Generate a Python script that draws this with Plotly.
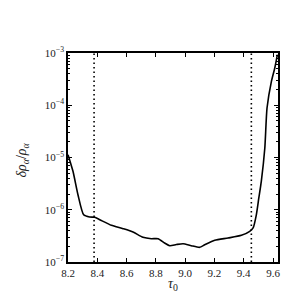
import plotly.graph_objects as go

tau0 = [8.2, 8.234, 8.268, 8.307, 8.348, 8.382, 8.417, 8.496, 8.576, 8.644, 8.712, 8.769, 8.815, 8.860,
        8.895, 8.940, 8.986, 9.042, 9.099, 9.134, 9.202, 9.293, 9.384, 9.441, 9.464, 9.486, 9.503,
        9.520, 9.544, 9.559, 9.589, 9.612, 9.630]
drho = [1.13e-5, 5.44e-6, 1.94e-6, 8.0e-7, 7.26e-7, 7.16e-7, 6.45e-7, 5.04e-7, 4.34e-7, 3.75e-7,
        2.97e-7, 2.79e-7, 2.79e-7, 2.31e-7, 2.05e-7, 2.16e-7, 2.24e-7, 2.05e-7, 1.91e-7, 2.14e-7,
        2.6e-7, 2.88e-7, 3.24e-7, 3.87e-7, 4.48e-7, 8.0e-7, 1.68e-6, 3.5e-6, 1.52e-5, 8.85e-5,
        2.87e-4, 5.16e-4, 9.3e-4]
vlines = [8.378, 9.452]
xticks = [8.2, 8.4, 8.6, 8.8, 9.0, 9.2, 9.4, 9.6]
yticks = [1e-7, 1e-6, 1e-5, 1e-4, 1e-3]
yticklabels = ["10<sup>−7</sup>", "10<sup>−6</sup>", "10<sup>−5</sup>", "10<sup>−4</sup>", "10<sup>−3</sup>"]

font = "Liberation Serif"
fig = go.Figure()
for xv in vlines:
    fig.add_trace(go.Scatter(x=[xv, xv], y=[1e-7, 1e-3], mode="lines",
                             line=dict(color="black", width=1.6, dash="1.5px,3px"), showlegend=False))
fig.add_trace(go.Scatter(x=tau0, y=drho, mode="lines", line_shape="spline",
                         line=dict(color="black", width=1.6, smoothing=0.6), showlegend=False))

fig.update_layout(
    width=300, height=300,
    margin=dict(l=60, r=30, t=45, b=46),
    paper_bgcolor="white", plot_bgcolor="white",
    font=dict(family=font, size=11, color="#222"),
    showlegend=False,
    annotations=[
        dict(text="<i>τ</i><sub>0</sub>", xref="paper", yref="paper", x=0.5, y=-0.11,
             xanchor="center", yanchor="middle", showarrow=False, font=dict(size=14)),
        dict(text="<i>δρ</i><sub><i>α</i></sub>/<i>ρ</i><sub><i>α</i></sub>", xref="paper", yref="paper",
             x=-0.215, y=0.49, xanchor="center", yanchor="middle", textangle=-90, showarrow=False,
             font=dict(size=14)),
    ],
)
fig.update_xaxes(range=[8.2, 9.634], tickvals=xticks, tickformat=".1f",
                 ticks="inside", ticklen=4, tickcolor="black", mirror="ticks",
                 showline=True, linecolor="black", linewidth=1.5, showgrid=False, zeroline=False)
fig.update_yaxes(type="log", range=[-7, -3], tickvals=yticks, ticktext=yticklabels,
                 ticks="inside", ticklen=4, tickcolor="black", mirror="ticks",
                 minor=dict(ticks="inside", ticklen=2, tickcolor="black", dtick="D1"),
                 showline=True, linecolor="black", linewidth=1.5, showgrid=False, zeroline=False)

fig.write_html("out.html")
